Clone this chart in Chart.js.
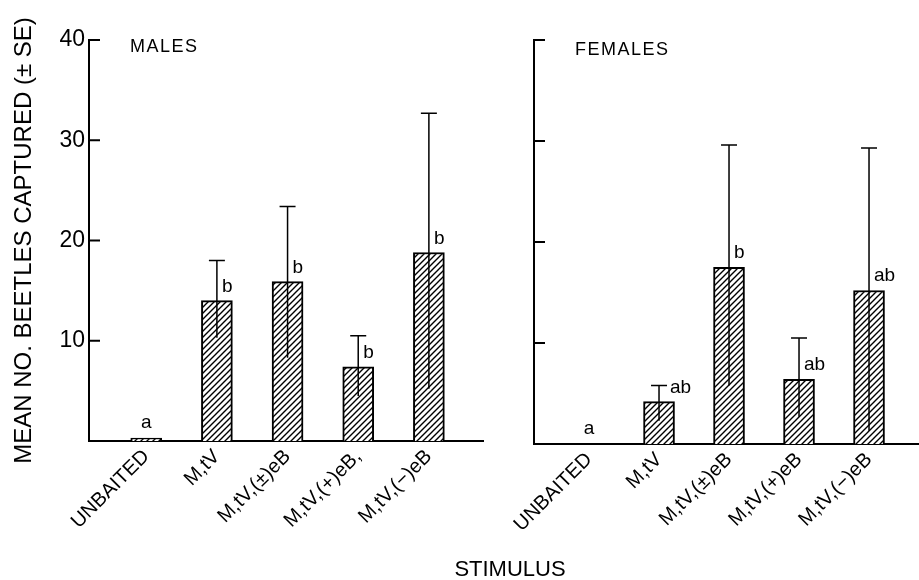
<!DOCTYPE html>
<html>
<head>
<meta charset="utf-8">
<script src="https://cdn.jsdelivr.net/npm/chart.js@4.4.1/dist/chart.umd.min.js"></script>
<style>
  body { margin: 0; background: #fff; }
  #wrap { position: relative; width: 919px; height: 580px; overflow: hidden; }
  canvas { position: absolute; top: 0; }
  #males { left: 0; }
  #females { left: 484px; }
  #xtitle {
    position: absolute; left: 410px; width: 200px; top: 558px;
    text-align: center; font: 22px "Liberation Sans", Arial, sans-serif;
    line-height: 22px; color: #000;
  }
</style>
</head>
<body>
<div id="wrap">
  <canvas id="males" width="484" height="580"></canvas>
  <canvas id="females" width="435" height="580"></canvas>
  <div id="xtitle">STIMULUS</div>
</div>
<script>
const maleLabels = ['UNBAITED', 'M,tV', 'M,tV,(±)eB', 'M,tV,(+)eB,', 'M,tV,(−)eB'];
const femaleLabels = ['UNBAITED', 'M,tV', 'M,tV,(±)eB', 'M,tV,(+)eB', 'M,tV,(−)eB'];

const maleMeans = [0.3, 14.0, 15.9, 7.4, 18.8];
const maleLow = [0.3, 10.3, 8.3, 4.5, 5.2];
const maleHigh = [0.3, 18.0, 23.4, 10.5, 32.7];
const maleLetters = ['a', 'b', 'b', 'b', 'b'];

const femaleMeans = [0, 4.2, 17.5, 6.4, 15.2];
const femaleLow = [0, 2.3, 5.8, 2.7, 1.3];
const femaleHigh = [0, 5.8, 29.6, 10.5, 29.3];
const femaleLetters = ['a', 'ab', 'b', 'ab', 'ab'];

const yTicks = [10, 20, 30, 40];
const FONT = '"Liberation Sans", Arial, sans-serif';

function hatch(ctx) {
  const c = document.createElement('canvas');
  c.width = 6; c.height = 6;
  const g = c.getContext('2d');
  g.fillStyle = '#fff';
  g.fillRect(0, 0, 6, 6);
  g.strokeStyle = '#000';
  g.lineWidth = 1.4;
  g.beginPath();
  g.moveTo(-1, 7); g.lineTo(7, -1);
  g.moveTo(-4, 4); g.lineTo(4, -4);
  g.moveTo(2, 10); g.lineTo(10, 2);
  g.stroke();
  return ctx.createPattern(c, 'repeat');
}

// inward ticks, error bars, letters and panel name
const marks = {
  id: 'marks',
  afterDatasetsDraw(chart, args, o) {
    const ctx = chart.ctx;
    const y = chart.scales.y;
    const area = chart.chartArea;
    ctx.save();
    ctx.strokeStyle = '#000';
    ctx.lineWidth = 2;
    yTicks.forEach(v => {
      const py = y.getPixelForValue(v);
      ctx.beginPath();
      ctx.moveTo(area.left, py);
      ctx.lineTo(area.left + 11, py);
      ctx.stroke();
    });

    const meta = chart.getDatasetMeta(0);
    const means = chart.data.datasets[0].data.map(d => d.y);
    meta.data.forEach((bar, i) => {
      const top = y.getPixelForValue(means[i]);
      const hasErr = o.highs[i] > means[i];
      if (hasErr) {
        const hi = y.getPixelForValue(o.highs[i]);
        const lo = y.getPixelForValue(o.lows[i]);
        ctx.lineWidth = 1.5;
        ctx.beginPath();
        ctx.moveTo(bar.x, lo);
        ctx.lineTo(bar.x, hi);
        ctx.moveTo(bar.x - 8, hi);
        ctx.lineTo(bar.x + 8, hi);
        ctx.stroke();
      }
      ctx.fillStyle = '#000';
      ctx.font = '19px ' + FONT;
      ctx.textBaseline = 'alphabetic';
      if (hasErr) {
        const base = top - 9;
        const hi = y.getPixelForValue(o.highs[i]);
        const lx = (hi > base - 16) ? bar.x + 11 : bar.x + 5;
        ctx.textAlign = 'left';
        ctx.fillText(o.letters[i], lx, base);
      } else {
        ctx.textAlign = 'center';
        ctx.fillText(o.letters[i], bar.x, top - 10);
      }
    });

    ctx.font = '18px ' + FONT;
    ctx.letterSpacing = '1.5px';
    ctx.textAlign = 'left';
    ctx.fillText(o.name, area.left + 41, area.top + o.nameDy);
    ctx.restore();
  }
};

function makePanel(id, labels, means, lows, highs, letters, name, cfg) {
  const ctx = document.getElementById(id).getContext('2d');
  return new Chart(ctx, {
    type: 'bar',
    data: {
      datasets: [{
        data: means.map((v, i) => ({ x: i + 1, y: v })),
        backgroundColor: hatch(ctx),
        borderColor: '#000',
        borderWidth: 2,
        borderSkipped: 'bottom',
        barThickness: 31
      }]
    },
    options: {
      responsive: false,
      animation: false,
      layout: { padding: { top: 40, left: 0, right: 0, bottom: 0 } },
      plugins: {
        legend: { display: false },
        tooltip: { enabled: false },
        marks: { lows: lows, highs: highs, letters: letters, name: name, nameDy: cfg.nameDy }
      },
      scales: {
        x: {
          type: 'linear',
          offset: false,
          min: cfg.xmin,
          max: cfg.xmax,
          grid: { display: false, drawTicks: false, offset: false },
          border: { display: true, color: '#000', width: 2 },
          afterBuildTicks: s => { s.ticks = labels.map((_, i) => ({ value: i + 1 })); },
          afterFit: s => { s.height = cfg.xh; },
          ticks: {
            autoSkip: false,
            minRotation: 45,
            maxRotation: 45,
            padding: 4,
            color: '#000',
            font: { family: FONT, size: 20 },
            callback: v => labels[v - 1] || ''
          }
        },
        y: {
          min: 0,
          max: 40,
          grid: { display: false, drawTicks: false },
          border: { display: true, color: '#000', width: 2 },
          afterFit: s => { s.width = cfg.yw; },
          ticks: {
            stepSize: 10,
            padding: 4,
            display: cfg.yLabels,
            color: '#000',
            font: { family: FONT, size: 23 },
            callback: v => v === 0 ? '' : v
          },
          title: {
            display: cfg.yLabels,
            text: 'MEAN NO. BEETLES CAPTURED (± SE)',
            color: '#000',
            font: { family: FONT, size: 24 },
            padding: { top: 10, bottom: 0 }
          }
        }
      }
    },
    plugins: [marks]
  });
}

makePanel('males', maleLabels, maleMeans, maleLow, maleHigh, maleLetters, 'MALES',
  { xmin: 0.19, xmax: 5.78, xh: 139, yw: 89, yLabels: true, nameDy: 12 });
makePanel('females', femaleLabels, femaleMeans, femaleLow, femaleHigh, femaleLetters, 'FEMALES',
  { xmin: 0.214, xmax: 5.714, xh: 136, yw: 50, yLabels: false, nameDy: 15 });
</script>
</body>
</html>
